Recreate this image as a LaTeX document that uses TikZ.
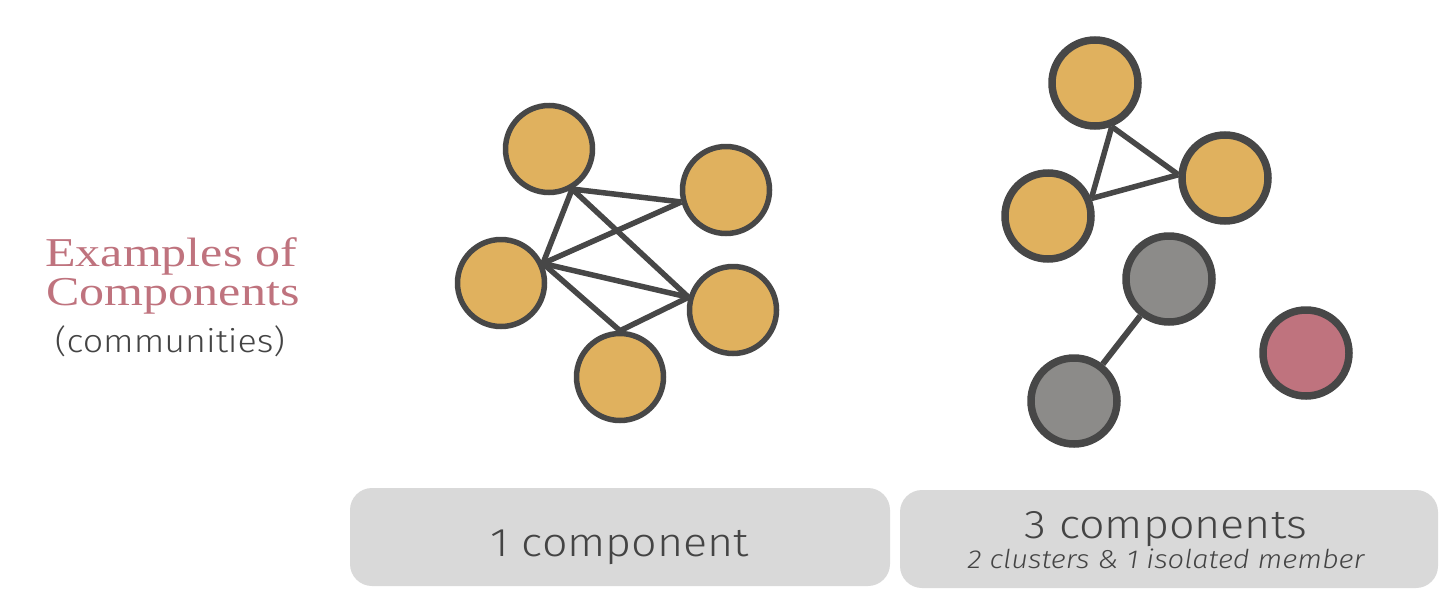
\documentclass[tikz,border=0pt]{standalone}
\usepackage{fontspec}
\newfontfamily\ttlfont[FakeStretch=1.22]{Liberation Serif}
\newfontfamily\lblfont[FakeStretch=1.12,UprightFont=* Light,ItalicFont=* Light Italic]{Fira Sans}
\definecolor{gold}{HTML}{E0B15E}
\definecolor{rim}{HTML}{474747}
\definecolor{stone}{HTML}{8C8B89}
\definecolor{rose}{HTML}{BF737E}
\definecolor{panel}{HTML}{D9D9D9}
\definecolor{ink}{HTML}{444444}
\tikzset{
  nodeA/.style={circle,draw=rim,line width=5.5pt,fill=gold,minimum size=87pt,inner sep=0pt},
  nodeB/.style={circle,draw=rim,line width=7.5pt,minimum size=86pt,inner sep=0pt},
  link/.style={draw=rim,line width=5.5pt},
  panelbox/.style={fill=panel,rounded corners=22pt},
  lbl/.style={text=ink,inner sep=0pt,anchor=base}
}
\begin{document}
\begin{tikzpicture}[x=1pt,y=-1pt]
\useasboundingbox (0,0) rectangle (1440,600);
% left title
\node[lbl,text=rose,font=\ttlfont\fontsize{41}{41}\selectfont] (t1) at (171,266) {Examples of};
\node[lbl,text=rose,font=\ttlfont\fontsize{41}{41}\selectfont] (t2) at (173,305) {Components};
\node[lbl,font=\lblfont\fontsize{32}{32}\selectfont] (t3) at (170,352) {(communities)};
% graph 1
\node[nodeA] (T) at (549,149) {};
\node[nodeA] (RT) at (726,190) {};
\node[nodeA] (L) at (501,283) {};
\node[nodeA] (RB) at (733,310) {};
\node[nodeA] (B) at (620,377) {};
\draw[link] (T.-60) -- (RT.195);
\draw[link] (T.-60) -- (L.25);
\draw[link] (T.-60) -- (RB.164);
\draw[link] (L.25) -- (RT.195);
\draw[link] (L.25) -- (RB.164);
\draw[link] (L.25) -- (B.90);
\draw[link] (B.90) -- (RB.164);
% graph 2
\node[nodeB,fill=gold] (A) at (1095,83) {};
\node[nodeB,fill=gold] (Bn) at (1048,216) {};
\node[nodeB,fill=gold] (C) at (1225,178) {};
\node[nodeB,fill=stone] (G1) at (1169,279) {};
\node[nodeB,fill=stone] (G2) at (1074,401) {};
\node[nodeB,fill=rose] (P) at (1306,353) {};
\draw[link] (A.-69) -- (Bn.22);
\draw[link] (A.-69) -- (C.176);
\draw[link] (Bn.22) -- (C.176);
\draw[link,line width=6pt] (G1) -- (G2);
% panels
\path[panelbox] (350,488) rectangle (890,586);
\path[panelbox] (900,490) rectangle (1438,588);
\node[lbl,font=\lblfont\fontsize{40}{40}\selectfont] (c1) at (620,556) {1 component};
\node[lbl,font=\lblfont\fontsize{40}{40}\selectfont] (c3) at (1166,538) {3 components};
\node[lbl,font=\lblfont\itshape\fontsize{26}{26}\selectfont] (c3s) at (1166,568) {2 clusters \& 1 isolated member};
\end{tikzpicture}
\end{document}
